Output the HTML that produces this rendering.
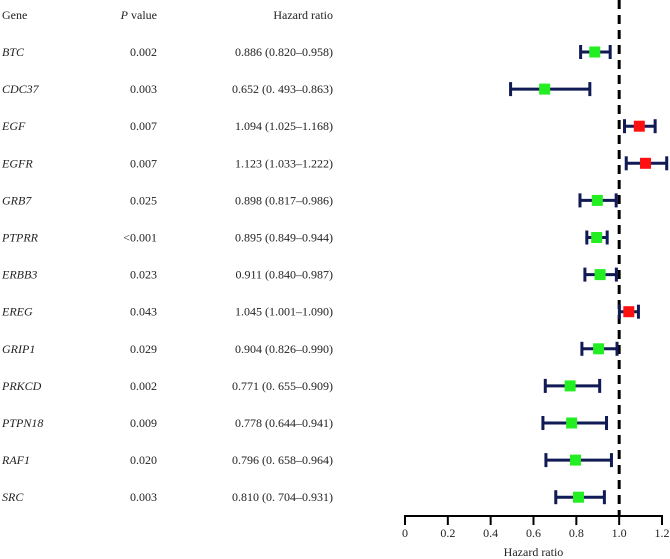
<!DOCTYPE html>
<html><head><meta charset="utf-8"><style>
html,body{margin:0;padding:0;background:#fff;}
svg{display:block;font-family:"Liberation Serif",serif;}
</style></head><body>
<svg id="chart" width="670" height="559" viewBox="0 0 670 559" xmlns="http://www.w3.org/2000/svg">
<g font-size="12" fill="#222">
<text x="2" y="19">Gene</text>
<text x="157" y="19" text-anchor="end"><tspan font-style="italic">P</tspan> value</text>
<text x="333" y="19" text-anchor="end">Hazard ratio</text>
</g>
<g id="rows"></g>
<g id="axis"></g>
</svg>
<script>
const genes=["BTC","CDC37","EGF","EGFR","GRB7","PTPRR","ERBB3","EREG","GRIP1","PRKCD","PTPN18","RAF1","SRC"];
const pvals=["0.002","0.003","0.007","0.007","0.025","<0.001","0.023","0.043","0.029","0.002","0.009","0.020","0.003"];
const hr=[0.886,0.652,1.094,1.123,0.898,0.895,0.911,1.045,0.904,0.771,0.778,0.796,0.810];
const lo=[0.820,0.493,1.025,1.033,0.817,0.849,0.840,1.001,0.826,0.655,0.644,0.658,0.704];
const hi=[0.958,0.863,1.168,1.222,0.986,0.944,0.987,1.090,0.990,0.909,0.941,0.964,0.931];
const hrLabels=["0.886 (0.820–0.958)","0.652 (0. 493–0.863)","1.094 (1.025–1.168)","1.123 (1.033–1.222)","0.898 (0.817–0.986)","0.895 (0.849–0.944)","0.911 (0.840–0.987)","1.045 (1.001–1.090)","0.904 (0.826–0.990)","0.771 (0. 655–0.909)","0.778 (0.644–0.941)","0.796 (0. 658–0.964)","0.810 (0. 704–0.931)"];
const ticks=[0,0.2,0.4,0.6,0.8,1.0,1.2];
const tickLabels=["0","0.2","0.4","0.6","0.8","1.0","1.2"];
const NS="http://www.w3.org/2000/svg";
const X0=405,X1=662,AXY=516;
const xs=v=>X0+(v/1.2)*(X1-X0);
const ys=i=>52+i*37.1;
function mk(t,a,p){const e=document.createElementNS(NS,t);for(const k in a)e.setAttribute(k,a[k]);p.appendChild(e);return e;}
const rows=document.getElementById('rows'),axis=document.getElementById('axis');
const ref=mk('line',{x1:xs(1),x2:xs(1),y1:0,y2:AXY,stroke:'#000','stroke-width':3,'stroke-dasharray':'9,6'},rows);


genes.forEach((g,i)=>{
 const y=ys(i);
 const grp=mk('g',{},rows);
 
 
 const t1=mk('text',{x:2,y:y+4,'font-size':12,'font-style':'italic',fill:'#222'},grp);t1.textContent=g;
 
 
 const t2=mk('text',{x:157,y:y+4,'font-size':12,'text-anchor':'end',fill:'#222'},grp);t2.textContent=pvals[i];
 
 
 const t3=mk('text',{x:333,y:y+4,'font-size':12,'text-anchor':'end',fill:'#222'},grp);t3.textContent=hrLabels[i];
 
 
 const c='#101a55';
 const w=mk('line',{x1:xs(lo[i]),x2:xs(hi[i]),y1:y,y2:y,stroke:c,'stroke-width':3},grp);
 
 
 [lo[i],hi[i]].forEach(v=>{const cap=mk('line',{x1:xs(v),x2:xs(v),y1:y-7,y2:y+7,stroke:c,'stroke-width':3},grp);
  
  });
 const s=mk('rect',{x:xs(hr[i])-5.5,y:y-5.5,width:11,height:11,fill:hr[i]>1?'#ff1010':'#22ee22'},grp);
 
 
});
const al=mk('line',{x1:X0,x2:X1,y1:AXY,y2:AXY,stroke:'#000','stroke-width':2},axis);


ticks.forEach((v,i)=>{
 const tk=mk('line',{x1:xs(v),x2:xs(v),y1:AXY-1,y2:AXY+9,stroke:'#000','stroke-width':2},axis);
 
 
 const tl=mk('text',{x:xs(v),y:AXY+21,'font-size':12,'text-anchor':'middle',fill:'#222'},axis);tl.textContent=tickLabels[i];
 
 
});
const at=mk('text',{x:(X0+X1)/2,y:AXY+40,'font-size':12,'text-anchor':'middle',fill:'#222'},axis);at.textContent='Hazard ratio';


</script>
</body></html>
